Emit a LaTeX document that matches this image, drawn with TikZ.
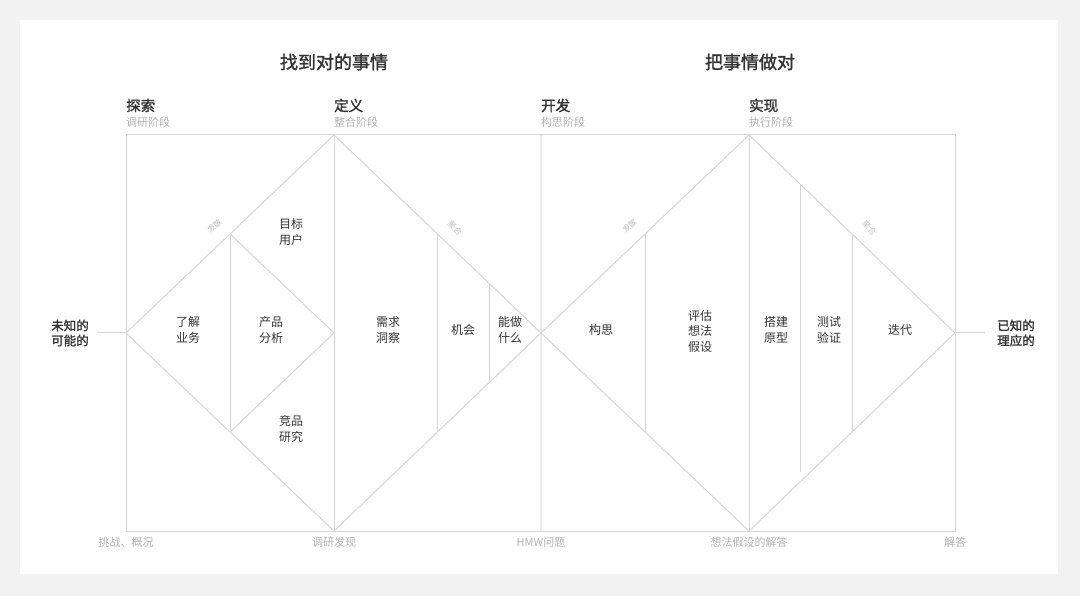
\documentclass[tikz,border=0pt]{standalone}
\usepackage{fontspec}
\setmainfont{Noto Sans CJK SC}
\newfontfamily\headfont[FakeBold=1.6]{Noto Sans CJK SC}
\usetikzlibrary{positioning, calc}
\definecolor{bggray}{HTML}{F2F2F2}
\definecolor{linegray}{HTML}{D6D6D6}
\definecolor{textdark}{HTML}{333333}
\definecolor{textgray}{HTML}{B2B2B2}
\tikzstyle{title} = [font=\fontsize{18}{22}\selectfont\headfont, text=textdark]
\tikzstyle{phase} = [font=\fontsize{14.5}{17}\selectfont\headfont, text=textdark, inner sep=0pt]
\tikzstyle{phasesub} = [font=\fontsize{11}{13}\selectfont, text=textgray, inner sep=0pt]
\tikzstyle{item} = [font=\fontsize{12}{15.5}\selectfont, text=textdark, align=center]
\tikzstyle{state} = [font=\fontsize{12.5}{15}\selectfont\headfont, text=textdark, align=left]
\tikzstyle{outcome} = [font=\fontsize{11}{13}\selectfont, text=textgray, inner sep=0pt]
\tikzstyle{modelabel} = [font=\fontsize{8}{10}\selectfont, text=textgray!80, sloped, above=9pt]
\tikzstyle{frameline} = [draw=linegray, line width=1pt]

\begin{document}
\begin{tikzpicture}[x=1pt, y=-1pt]
	\fill [bggray] (0,0) rectangle (1080,596);
	\fill [white] (20,20) rectangle (1058,574);
	% frame and diamond tips
	\coordinate (tl) at (126,135);
	\coordinate (br) at (955,531);
	\coordinate (bl) at (126,531);
	\coordinate (left) at (126,333);
	\coordinate (top1) at (334,135);
	\coordinate (bot1) at (334,531);
	\coordinate (topm) at (541,135);
	\coordinate (botm) at (541,531);
	\coordinate (mid) at (541,333);
	\coordinate (top2) at (749,135);
	\coordinate (bot2) at (749,531);
	\coordinate (right) at (955,333);
	\draw [frameline] (tl) rectangle (br);
	\draw [frameline] (top1) -- (bot1);
	\draw [frameline, draw=linegray!110!black, line width=1.5pt] (topm) -- (botm);
	\draw [frameline] (top2) -- (bot2);
	\draw [frameline] (left) -- (top1) -- (mid) -- (bot1) -- cycle;
	\draw [frameline] (mid) -- (top2) -- (right) -- (bot2) -- cycle;
	% inner splits
	\draw [frameline] ($(left)!0.5!(top1)$) -- ($(left)!0.5!(bot1)$);
	\draw [frameline] ($(left)!0.5!(top1)$) -- ($(top1)!0.5!(bot1)$) -- ($(left)!0.5!(bot1)$);
	\draw [frameline] ($(top1)!0.5!(mid)$) -- ($(bot1)!0.5!(mid)$);
	\draw [frameline] ($(top1)!0.75!(mid)$) -- ($(bot1)!0.75!(mid)$);
	\draw [frameline] ($(mid)!0.5!(top2)$) -- ($(mid)!0.5!(bot2)$);
	\draw [frameline] ($(top2)!0.25!(right)$) -- ($(bot2)!0.25!(right) + (0,-10)$);
	\draw [frameline] ($(top2)!0.5!(right)$) -- ($(bot2)!0.5!(right)$);
	% diverge / converge
	\path (left) -- (top1) node (div1) [modelabel, pos=0.48] {发散};
	\path (top1) -- (mid) node (conv1) [modelabel, pos=0.53] {聚合};
	\path (mid) -- (top2) node (div2) [modelabel, pos=0.48] {发散};
	\path (top2) -- (right) node (conv2) [modelabel, pos=0.53] {聚合};
	% titles and phases
	\node (goal1) [title] at (334,62) {找到对的事情};
	\node (goal2) [title] at (750,62) {把事情做对};
	\node (explore) [phase, anchor=base west] at (126,111) {探索};
	\node (define) [phase, anchor=base west] at (334,111) {定义};
	\node (develop) [phase, anchor=base west] at (541,111) {开发};
	\node (deliver) [phase, anchor=base west] at (749,111) {实现};
	\node (exploresub) [phasesub, anchor=base west] at ([yshift=-15.5pt]explore.base west) {调研阶段};
	\node (definesub) [phasesub, anchor=base west] at ([yshift=-15.5pt]define.base west) {整合阶段};
	\node (developsub) [phasesub, anchor=base west] at ([yshift=-15.5pt]develop.base west) {构思阶段};
	\node (deliversub) [phasesub, anchor=base west] at ([yshift=-15.5pt]deliver.base west) {执行阶段};
	% steps
	\node (business) [item] at (188,330) {了解\\业务};
	\node (product) [item] at (271,330) {产品\\分析};
	\node (users) [item] at (291,232) {目标\\用户};
	\node (rivals) [item] at (291,429) {竞品\\研究};
	\node (needs) [item] at (388,330) {需求\\洞察};
	\node (chance) [item] at (463,330) {机会};
	\node (cando) [item] at (510,330) {能做\\什么};
	\node (ideate) [item] at (601,330) {构思};
	\node (assess) [item] at (700,331) {评估\\想法\\假设};
	\node (build) [item] at (776,330) {搭建\\原型};
	\node (test) [item] at (829,330) {测试\\验证};
	\node (iterate) [item] at (900,330) {迭代};
	% ends
	\node (unknown) [state] at (70,333) {未知的\\可能的};
	\node (known) [state] at (1016,333) {已知的\\理应的};
	\draw [frameline, shorten <=5pt] (unknown) -- (left);
	\draw [frameline, shorten >=9pt] (right) -- (known);
	\node (challenge) [outcome, below=6pt of bl] {挑战、概况};
	\node (findings) [outcome, below=6pt of bot1] {调研发现};
	\node (hmw) [outcome, below=6pt of botm] {HMW问题};
	\node (answers) [outcome, below=6pt of bot2] {想法假设的解答};
	\node (answer) [outcome, below=6pt of br] {解答};
\end{tikzpicture}
\end{document}
